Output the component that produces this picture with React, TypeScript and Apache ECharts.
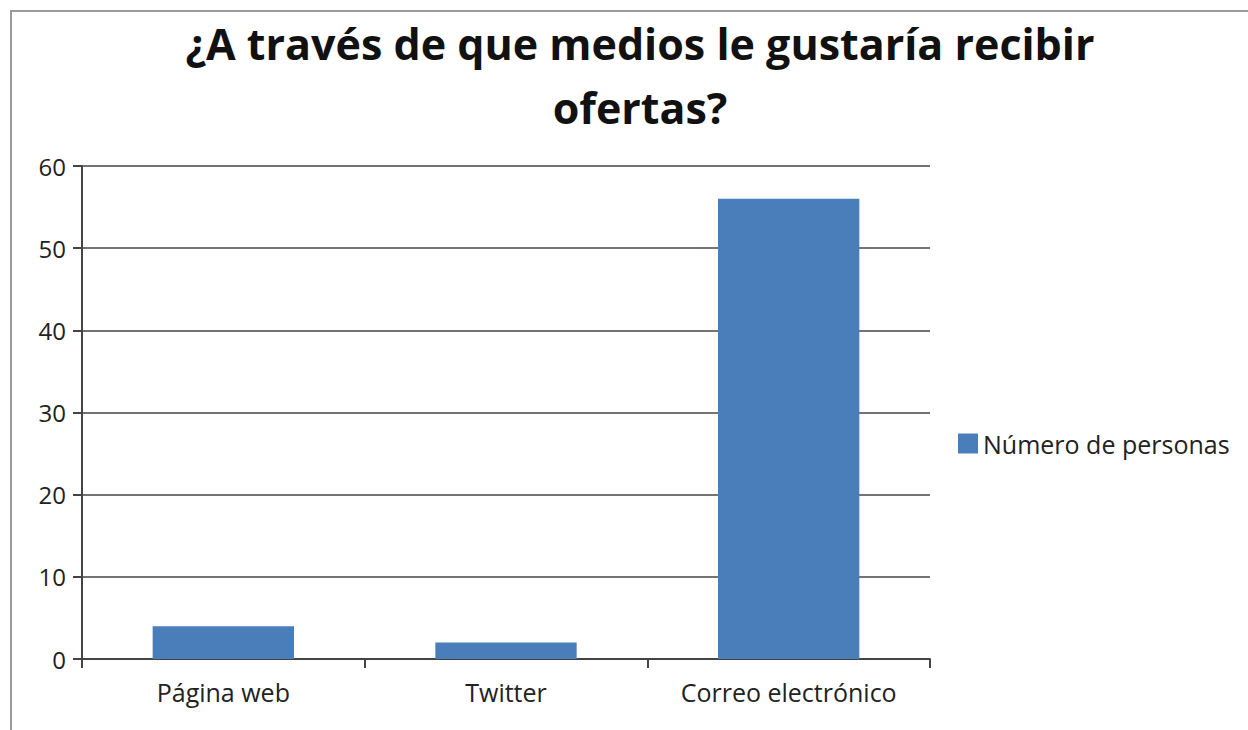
import React, { useEffect, useRef } from "react";
import * as echarts from "echarts";

const titleText = "¿A través de que medios le gustaría recibir\nofertas?";
const categories = ["Página web", "Twitter", "Correo electrónico"];
const seriesName = "Número de personas";
const values = [4, 2, 56];
const yMin = 0;
const yMax = 60;
const yInterval = 10;

export default function App() {
  const ref = useRef<HTMLDivElement>(null);
  useEffect(() => {
    if (!ref.current) return;
    const chart = echarts.init(ref.current, null, { renderer: "svg" });
    const font = "'Open Sans', 'Noto Sans', sans-serif";
    chart.setOption({
      animation: false,
      backgroundColor: "#ffffff",
      textStyle: { fontFamily: font },
      title: {
        text: titleText,
        left: 635,
        textAlign: "center",
        top: 6,
        textStyle: {
          fontFamily: font,
          fontSize: 43,
          fontWeight: "bold",
          color: "#111111",
          lineHeight: 64,
        },
      },
      graphic: [
        {
          type: "rect",
          shape: { x: 11, y: 11, width: 1400, height: 900 },
          style: { fill: "none", stroke: "#9a9a9a", lineWidth: 2 },
          silent: true,
        },
      ],
      legend: {
        orient: "vertical",
        left: 953,
        top: 426,
        itemWidth: 20,
        itemHeight: 20,
        itemGap: 6,
        icon: "rect",
        textStyle: { fontFamily: font, fontSize: 25, color: "#222222", padding: [0, 0, 0, 0] },
        data: [seriesName],
      },
      grid: { left: 82, right: 318, top: 166, bottom: 71, containLabel: false },
      xAxis: {
        type: "category",
        data: categories,
        axisLine: { lineStyle: { color: "#444444", width: 2 } },
        axisTick: { show: true, length: 9, lineStyle: { color: "#444444", width: 2 } },
        axisLabel: { fontFamily: font, fontSize: 25, color: "#222222", margin: 20 },
      },
      yAxis: {
        type: "value",
        min: yMin,
        max: yMax,
        interval: yInterval,
        axisLine: { show: true, lineStyle: { color: "#444444", width: 2 } },
        axisTick: { show: true, length: 9, lineStyle: { color: "#444444", width: 2 } },
        axisLabel: { fontFamily: font, fontSize: 24, color: "#222222", margin: 16 },
        splitLine: { show: true, lineStyle: { color: "#444444", width: 1.5 } },
      },
      series: [
        {
          name: seriesName,
          type: "bar",
          data: values,
          barWidth: "50%",
          itemStyle: { color: "#4a7ebb" },
        },
      ],
    });
    return () => chart.dispose();
  }, []);
  return (
    <div
      ref={ref}
      style={{ position: "absolute", left: 0, top: 0, width: 1248, height: 730 }}
    />
  );
}
